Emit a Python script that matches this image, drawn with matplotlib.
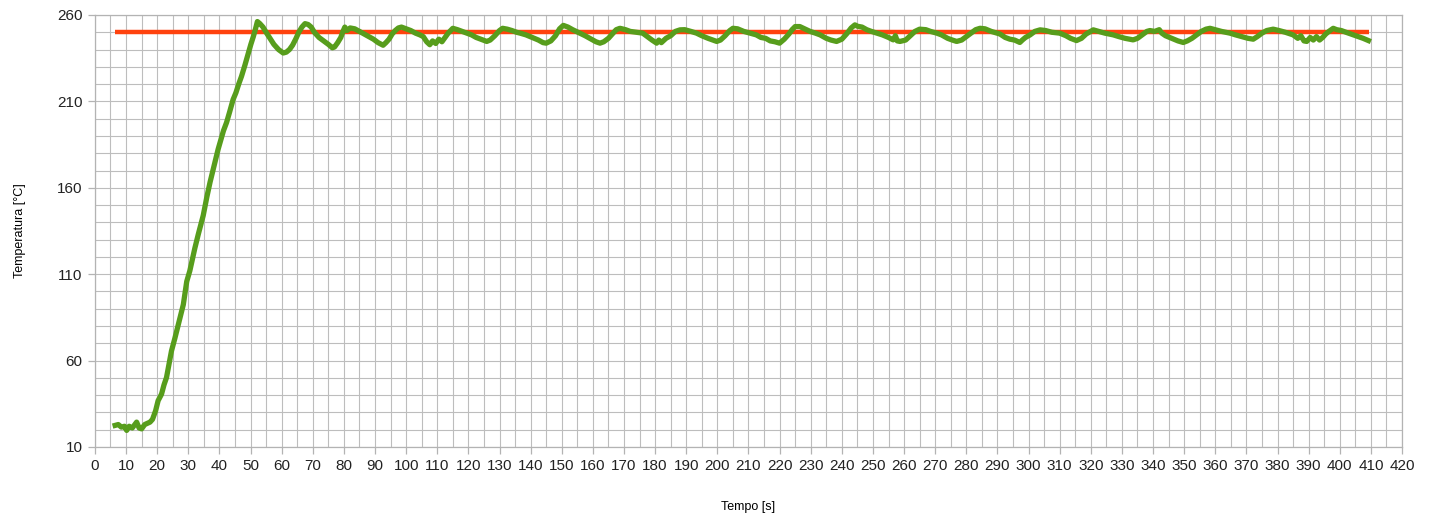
import numpy as np
import matplotlib.pyplot as plt
from matplotlib.ticker import MultipleLocator

# pomiar temperatury grzałki (czas [s], temperatura [°C])
czas = [
    6.5, 7.5, 8.5, 9.5, 10.2, 11, 12, 13.4, 14.2, 15, 16, 17.7, 18.5, 19.5, 20.3,
    21.4, 22.2, 23, 23.8, 24.6, 25.7, 26.8, 28.4, 29.5, 30.5, 31.6, 32.1, 33.2,
    34.8, 36, 37, 38.2, 39.6, 40.5, 41.3, 42.3, 43.3, 44.4, 45.3, 46.2, 47.1,
    48.2, 49.3, 50.1, 50.9, 51.6, 52.2, 53, 54, 55, 56.2, 57.5, 59, 60.5, 61.5,
    62.5, 63.5, 64.5, 65.5, 66.5, 67.5, 68.5, 69.5, 70.5, 72, 73.5, 75, 76.3,
    77, 78, 79, 79.7, 80.3, 81, 82, 83.5, 85, 86.5, 88, 89.5, 91, 92.6, 93.5,
    94.5, 95.5, 96.5, 97.5, 98.5, 100, 101.5, 103, 104.4, 105.5, 106.6, 107.6,
    108.5, 109.5, 110.5, 111.5, 112.5, 113.5, 115, 116.5, 118, 119.4, 121,
    122.5, 124, 125.9, 127, 128.5, 130, 131, 132.5, 134, 135.5, 136.6, 138.5,
    140.5, 142.5, 144, 145, 146.5, 148, 149.3, 150.5, 152, 153.5, 155.8, 157.5,
    159.5, 161, 162.3, 163.5, 165, 166.5, 167.5, 168.7, 170.5, 172, 174, 176,
    177.5, 179, 180.5, 181.2, 182, 183.5, 185, 186.5, 188, 189.5, 191.5, 193.3,
    195, 197, 199.8, 201, 202.5, 204, 205, 206.5, 208.5, 210.5, 212.5, 214,
    215.5, 217, 218.5, 220, 221.5, 223, 224, 225, 226.5, 228, 229.8, 231.5,
    233, 235, 236.5, 238.3, 240, 241.5, 243, 244.2, 245, 246.5, 248, 249.5,
    251.2, 253, 255, 256.5, 257.2, 257.8, 258.7, 260.5, 262, 263.5, 265, 267,
    268.5, 270.5, 272, 274, 275.5, 276.9, 278.5, 280, 281.5, 283, 284.4, 286,
    288, 290.8, 292.5, 294, 295.5, 297.2, 298, 299, 300.5, 302, 303.7, 305.5,
    307.5, 310, 312, 313.5, 315.4, 317, 318.5, 320.8, 322.5, 324.5, 327.2, 329,
    331, 333.6, 335, 336.5, 338, 339, 340.5, 342, 342.8, 344, 346, 348, 349.7,
    351, 352.5, 354, 355.5, 357, 358.3, 360, 362, 364.7, 366.5, 368.5, 370.5,
    372.2, 373.5, 375, 376.5, 378.6, 380.5, 382.5, 385, 386.5, 387.5, 388.5,
    389.4, 390.5, 391.5, 392.5, 393.5, 394.5, 395.5, 396.5, 397.9, 399, 400.5,
    402, 404.4, 406, 407.5, 409.2,
]
temperatura = [
    22.5, 23, 21.5, 22, 19.6, 22, 21, 24.4, 21, 20.5, 23, 24.4, 26, 31, 36.8,
    40.6, 46, 50.2, 58, 65.6, 73, 80.9, 92.4, 105.8, 112, 121.1, 125, 133,
    144, 155, 163.3, 172, 182.4, 188, 193, 197.8, 204, 211.1, 215, 220, 224.5,
    231, 238, 243, 247.5, 252, 256.2, 255, 253, 250, 246.6, 243, 240, 238, 238.5,
    240, 242.5, 246, 250, 253, 255, 254.5, 253, 250, 247, 245, 243, 241,
    241.5, 244, 247, 250.5, 253, 251, 252.5, 252, 250.5, 249, 247.5, 246, 244, 242.5, 244,
    246, 249, 251, 252.5, 253, 252, 251, 249.5, 248.5, 247.5, 244.5, 242.8,
    245, 243.5, 246, 244.5, 247, 249.5, 252.3, 251.5, 250.5, 249.5, 248.5,
    247, 246, 244.7, 245.5, 248, 251, 252.3, 251.8, 251, 250, 249.5, 248.5,
    247, 245.5, 244, 243.7, 245, 248, 252, 254, 253, 251.5, 249.5, 248,
    246, 244.5, 243.7, 244.5, 246.5, 249.5, 251.5, 252.3, 251.5, 250.5, 250, 249.5,
    247.5, 245.5, 243.7, 245.5, 244, 246.5, 248, 250.5, 251.4, 251.5, 250.5, 249.5,
    248, 246.5, 244.7, 245.5, 248, 251, 252.3, 252, 250.5, 249.5, 248.5, 247,
    246.5, 245, 244.5, 243.7, 246, 249, 251.5, 253.3, 253.3, 252, 250.5, 249.5,
    248.5, 246.5, 245.5, 244.7, 246, 249, 252.5, 254.3, 253.5, 253, 251.5, 250.5,
    249.5, 248.5, 247, 245.6, 248, 245, 244.7, 245.5, 248, 250.5, 251.8, 251.5,
    250.5, 249.5, 248.5, 246.5, 245.5, 244.7, 245.5, 247.5, 249.5, 251.5, 252.3, 252,
    250.5, 249, 247, 246, 245.5, 244.1, 245.5, 247, 248.5, 250.5, 251.4, 251,
    250, 249.5, 248, 246.5, 245.2, 246.5, 249, 251.4, 250.5, 249.5, 248.5, 247.5,
    246.5, 245.6, 246.5, 248.5, 250.5, 251, 250.5, 251.5, 249.5, 248, 246.5, 245, 244.1,
    245, 246.5, 248.5, 250.5, 251.8, 252.3, 251.5, 250.5, 249.5, 248.5, 247.5, 246.5,
    246, 247.5, 249.5, 251, 251.8, 251, 250, 248.5, 246.5, 248, 245,
    244.7, 247, 245.5, 247.5, 245.5, 247, 249, 250.5, 252.3, 251.5, 251,
    250, 248.5, 247.5, 246.5, 245.2,
]

# wartość zadana
zadana = 250
zadana_od, zadana_do = 6.5, 409.5

plt.rcParams['font.family'] = 'Liberation Sans'

fig = plt.figure(figsize=(14.34, 5.17), dpi=100)
ax = fig.add_axes([0.0662, 0.1354, 0.9115, 0.8356])

ax.plot([zadana_od, zadana_do], [zadana, zadana], color='#ff420e', lw=3.2,
        solid_capstyle='butt', zorder=3)
ax.plot(czas, temperatura, color='#579d1c', lw=3.8, zorder=4)

ax.set_xlim(0, 420)
ax.set_ylim(10, 260)
ax.xaxis.set_major_locator(MultipleLocator(10))
ax.xaxis.set_minor_locator(MultipleLocator(5))
ax.set_yticks(np.arange(10, 261, 50))
ax.yaxis.set_minor_locator(MultipleLocator(10))

ax.grid(True, which='both', color='#bdbdbd', lw=0.8, zorder=0)
ax.set_axisbelow(True)
for s in ax.spines.values():
    s.set_color('#b3b3b3')
    s.set_linewidth(0.9)

ax.tick_params(which='major', length=5, width=0.9, color='#b3b3b3',
               labelsize=11, labelcolor='#222222', pad=4)
ax.tick_params(which='minor', length=0)

ax.set_xlabel('Tempo [s]', fontsize=9, labelpad=20)
ax.set_ylabel('Temperatura [°C]', fontsize=9, labelpad=22)

fig.savefig('out.png', dpi=100)
